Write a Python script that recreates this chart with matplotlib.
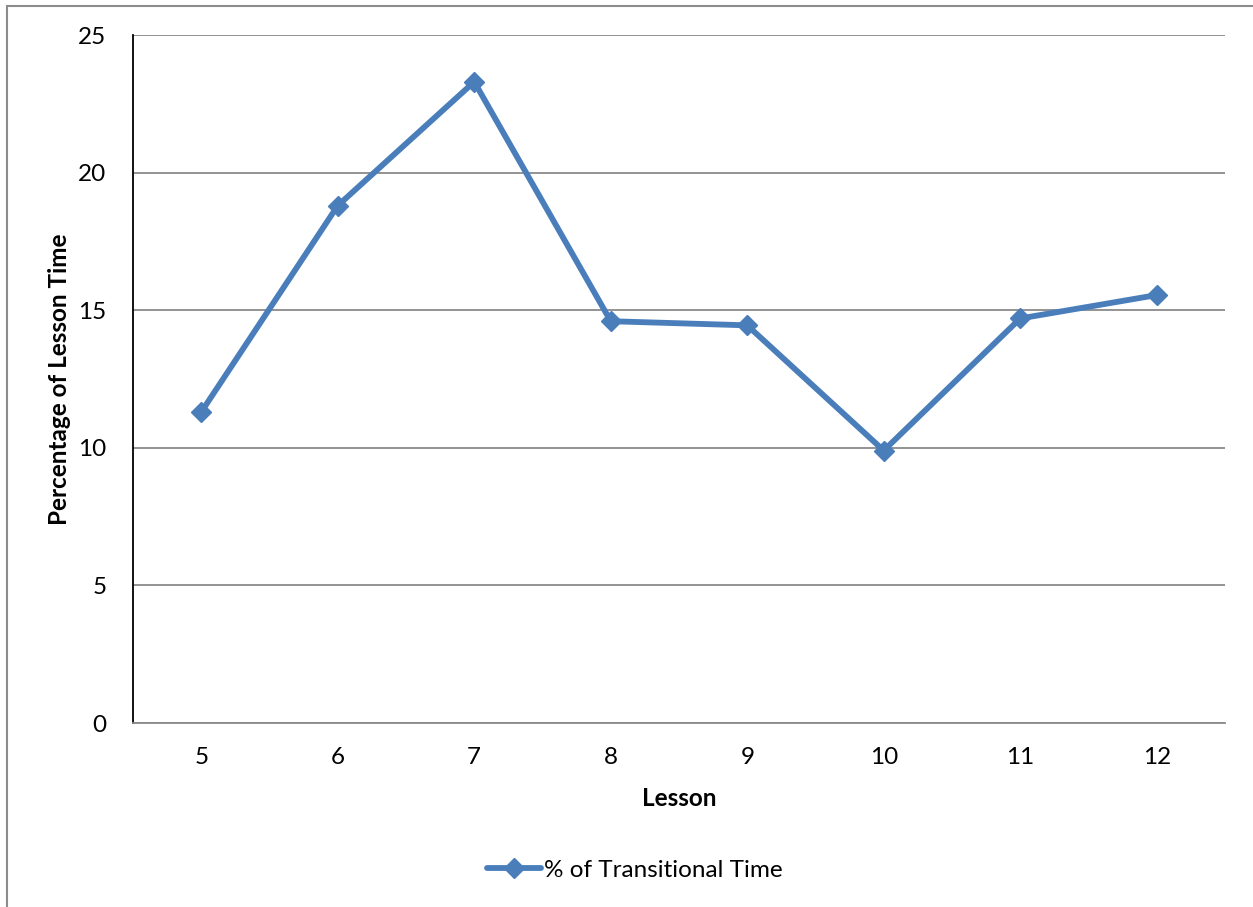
import matplotlib
matplotlib.use("Agg")
import matplotlib.pyplot as plt
from matplotlib.patches import Rectangle

plt.rcParams['font.family'] = ['Lato', 'DejaVu Sans']

lessons = [5, 6, 7, 8, 9, 10, 11, 12]
transitional_pct = [11.3, 18.8, 23.3, 14.6, 14.45, 9.9, 14.7, 15.55]
y_ticks = [0, 5, 10, 15, 20, 25]
series_label = "% of Transitional Time"

W, H = 1253, 907
FS = 17.5
fig = plt.figure(figsize=(W / 100, H / 100), dpi=100)

# chart frame
fig.patches.append(Rectangle((7 / W, -0.01), 1.2, (H - 6) / H + 0.01,
                             transform=fig.transFigure, fill=False,
                             edgecolor="#8c8c8c", linewidth=1.5))

ax = fig.add_axes([133 / W, 1 - 723 / H, (1225 - 133) / W, (723 - 35) / H])

blue = "#4a7ebb"
ax.plot(lessons, transitional_pct, color=blue, linewidth=4.2,
        marker="D", markersize=10, markerfacecolor=blue,
        markeredgecolor=blue, solid_capstyle="round", solid_joinstyle="round",
        label=series_label, zorder=3)

ax.set_xlim(4.5, 12.5)
ax.set_ylim(0, 25)
ax.set_xticks(lessons)
ax.set_yticks(y_ticks)
ax.tick_params(axis="both", length=0, labelsize=FS, colors="black")
ax.tick_params(axis="x", pad=17)
ax.tick_params(axis="y", pad=19)

ax.grid(axis="y", color="#8a8a8a", linewidth=1.3)
ax.set_axisbelow(True)
for s in ("top", "right"):
    ax.spines[s].set_visible(False)
ax.spines["left"].set_color("black")
ax.spines["left"].set_linewidth(1.3)
ax.spines["bottom"].set_color("#8a8a8a")
ax.spines["bottom"].set_linewidth(1.3)

ax.set_xlabel("Lesson", fontsize=FS, fontweight="bold", va="center")
ax.xaxis.set_label_coords(0.5, (723 - 799) / 688)
ax.set_ylabel("Percentage of Lesson Time", fontsize=FS, fontweight="bold", va="center")
ax.yaxis.set_label_coords((60 - 133) / 1092, 0.5)

fig.legend(loc="center", bbox_to_anchor=(635 / W, 1 - 870 / H), frameon=False,
           fontsize=FS, handlelength=2.2, handletextpad=0.15)

fig.savefig("out.png", dpi=100, facecolor="white")
